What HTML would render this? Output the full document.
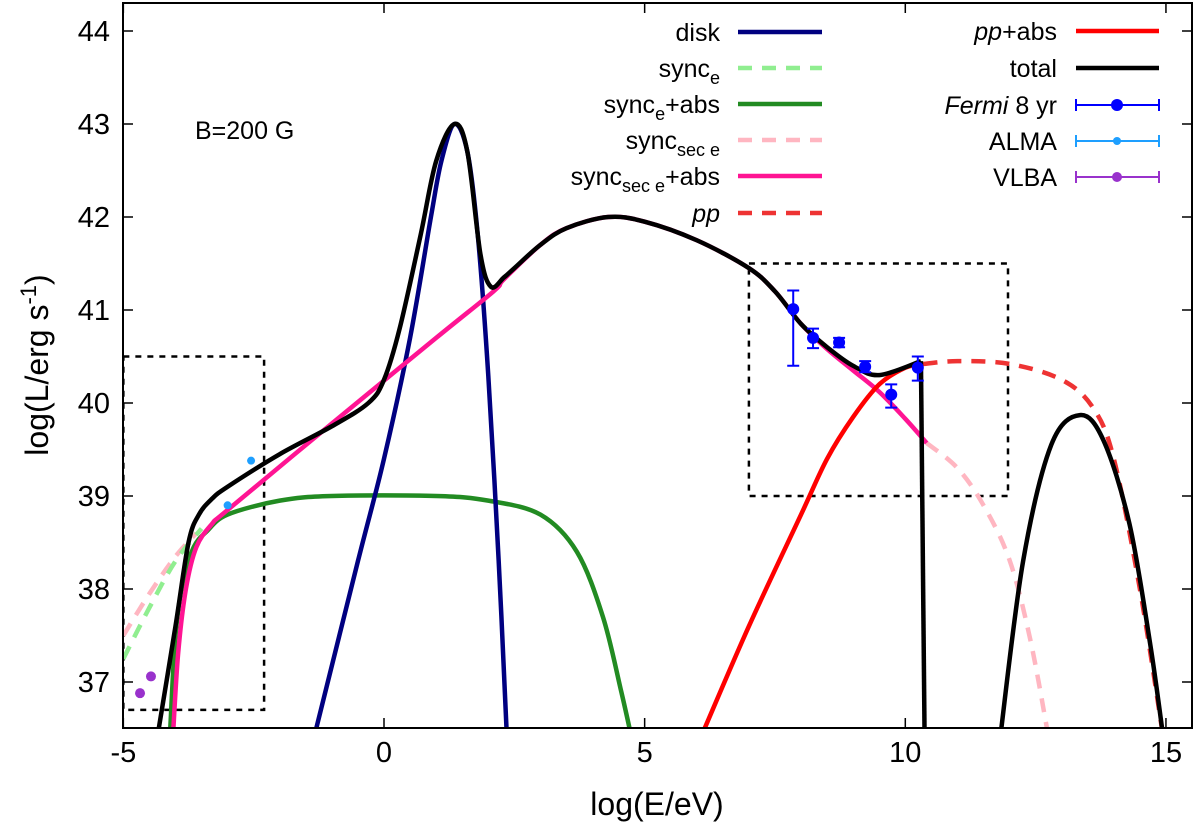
<!DOCTYPE html>
<html><head><meta charset="utf-8"><style>
html,body{margin:0;padding:0;background:#fff}
svg{display:block;font-family:"Liberation Sans",sans-serif}
</style></head><body>
<svg id="chart" width="1200" height="839" viewBox="0 0 1200 839">
<defs><clipPath id="clip"><rect x="123" y="3" width="1069" height="725"/></clipPath></defs>
<g id="marks" clip-path="url(#clip)"></g>
<g id="axes"></g>
<text x="657" y="815" font-size="32" text-anchor="middle">log(E/eV)</text>
<text transform="translate(48,365) rotate(-90)" font-size="32" text-anchor="middle">log(L/erg s<tspan dy="-12" font-size="22">-1</tspan><tspan dy="12">)</tspan></text>
<text x="195" y="139" font-size="25">B=200 G</text>
<g font-size="25" text-anchor="end">
<text x="720" y="41">disk</text>
<text x="720" y="77">sync<tspan font-size="18" dy="7">e</tspan></text>
<text x="720" y="113">sync<tspan font-size="18" dy="7">e</tspan><tspan dy="-7">+abs</tspan></text>
<text x="720" y="149">sync<tspan font-size="18" dy="7">sec e</tspan></text>
<text x="720" y="185">sync<tspan font-size="18" dy="7">sec e</tspan><tspan dy="-7">+abs</tspan></text>
<text x="720" y="222" font-style="italic">pp</text>
<text x="1057" y="40"><tspan font-style="italic">pp</tspan>+abs</text>
<text x="1057" y="77">total</text>
<text x="1057" y="114"><tspan font-style="italic">Fermi</tspan> 8 yr</text>
<text x="1057" y="150">ALMA</text>
<text x="1057" y="186">VLBA</text>
</g>
<g stroke-width="4.5">
<line x1="738" y1="32" x2="822" y2="32" stroke="#000080"/>
<line x1="738" y1="68" x2="822" y2="68" stroke="#90ee90" stroke-dasharray="14,10"/>
<line x1="738" y1="104" x2="822" y2="104" stroke="#228b22"/>
<line x1="738" y1="140" x2="822" y2="140" stroke="#ffb6c1" stroke-dasharray="14,10"/>
<line x1="738" y1="176" x2="822" y2="176" stroke="#ff1493"/>
<line x1="738" y1="213" x2="822" y2="213" stroke="#ee3333" stroke-dasharray="14,10"/>
<line x1="1076" y1="31" x2="1159" y2="31" stroke="#ff0000"/>
<line x1="1076" y1="68" x2="1159" y2="68" stroke="#000"/>
</g>
<g stroke-width="2" fill="none">
<path d="M1076,105h83M1076,99v12M1159,99v12" stroke="#0000ff"/><circle cx="1117" cy="105" r="6" fill="#0000ff" stroke="none"/>
<path d="M1076,141h83M1076,135v12M1159,135v12" stroke="#1e9fff"/><circle cx="1117" cy="141" r="4" fill="#1e9fff" stroke="none"/>
<path d="M1076,177h83M1076,171v12M1159,171v12" stroke="#9932cc"/><circle cx="1117" cy="177" r="5" fill="#9932cc" stroke="none"/>
</g>
</svg>
<script>
const xTicks=[-5,0,5,10,15];
const yTicks=[37,38,39,40,41,42,43,44];
const diskX=[-1.3,-0.5,0,0.5,0.9,1.1,1.35,1.6,1.8,2.0,2.2,2.35];
const diskY=[36.5,38.3,39.4,40.7,42.0,42.6,43.0,42.7,41.8,40.3,38.3,36.5];
const syncEX=[-5,-4.5,-4,-3.5];
const syncEY=[37.25,37.8,38.3,38.65];
const syncEAbsX=[-4.1,-4.0,-3.85,-3.65,-3.4,-3,-2,-1,1,2,3,3.7,4.2,4.55,4.75];
const syncEAbsY=[36.5,37.5,38.1,38.45,38.62,38.8,38.95,39.0,39.0,38.95,38.8,38.4,37.7,36.9,36.4];
const syncSecX=[-5,-4.5,-4,-3.6,10.41,11.0,11.5,12.0,12.4,12.75];
const syncSecY=[37.5,37.95,38.35,38.6,39.57,39.3,38.9,38.31,37.45,36.4];
const syncSecAbsX=[-4.05,-3.95,-3.8,-3.6,-3.3,-3,-1,1,2.1,2.3,3,3.5,4.3,5,6,7,7.5,8,8.5,9,9.5,10,10.41];
const syncSecAbsY=[36.4,37.3,38.0,38.45,38.7,38.85,39.78,40.7,41.2,41.33,41.7,41.88,42.0,41.95,41.75,41.45,41.2,40.85,40.58,40.35,40.12,39.83,39.57];
const ppX=[10.35,11,12,13,13.6,14,14.5,14.95];
const ppY=[40.42,40.45,40.42,40.25,39.95,39.4,38.0,36.4];
const ppAbsX=[6.15,7,8,8.5,9,9.5,10.0,10.35];
const ppAbsY=[36.5,37.6,38.8,39.4,39.85,40.2,40.38,40.42];
const totalX=[-4.35,-4,-3.75,-3.55,-3.3,-3,-2,-1,-0.3,0,0.3,0.7,1.0,1.35,1.6,1.85,2.05,2.3,2.5,3,3.5,4.3,5,6,7,7.5,8,8.5,9,9.5,10.3];
const totalY=[36.4,37.6,38.5,38.8,38.97,39.1,39.45,39.75,40.0,40.25,40.8,41.8,42.6,43.0,42.7,41.6,41.25,41.35,41.45,41.7,41.88,42.0,41.95,41.75,41.45,41.2,40.85,40.6,40.4,40.3,40.45];
const total2X=[11.82,12.26,12.8,13.35,13.8,14.3,14.7,14.95];
const total2Y=[36.4,38.3,39.55,39.87,39.6,38.7,37.4,36.4];
const fermiX=[7.85,8.23,8.73,9.23,9.73,10.24];
const fermiY=[41.01,40.70,40.65,40.39,40.09,40.38];
const fermiLo=[40.40,40.59,40.60,40.33,39.95,40.24];
const fermiHi=[41.21,40.80,40.70,40.45,40.20,40.50];
const almaX=[-3.0,-2.55];
const almaY=[38.9,39.38];
const vlbaX=[-4.68,-4.47];
const vlbaY=[36.88,37.06];

const NS='http://www.w3.org/2000/svg';
const sx=v=>384+(v)*52.13;
const sy=v=>31+(44-v)*93;
const marks=document.getElementById('marks');
const axes=document.getElementById('axes');
function mk(tag,attrs,parent){const e=document.createElementNS(NS,tag);for(const k in attrs)e.setAttribute(k,attrs[k]);parent.appendChild(e);return e;}
function smooth(xs,ys){
  const p=xs.map((x,i)=>[sx(x),sy(ys[i])]);
  let d='M'+p[0][0]+','+p[0][1];
  for(let i=0;i<p.length-1;i++){
    const p0=p[i-1]||p[i],p1=p[i],p2=p[i+1],p3=p[i+2]||p2;
    const c1=[p1[0]+(p2[0]-p0[0])/6,p1[1]+(p2[1]-p0[1])/6];
    const c2=[p2[0]-(p3[0]-p1[0])/6,p2[1]-(p3[1]-p1[1])/6];
    d+='C'+c1[0]+','+c1[1]+' '+c2[0]+','+c2[1]+' '+p2[0]+','+p2[1];
  }
  return d;
}
function curve(xs,ys,color,dash,name){
  const e=mk('path',{d:smooth(xs,ys),fill:'none',stroke:color,'stroke-width':4.5,'stroke-dasharray':dash||'none','stroke-linejoin':'round'},marks);
  
  
}
const b1=mk('rect',{x:sx(-5),y:sy(40.5),width:sx(-2.3)-sx(-5),height:sy(36.7)-sy(40.5),fill:'none',stroke:'#000','stroke-width':2.5,'stroke-dasharray':'6,6'},marks);


const b2=mk('rect',{x:sx(7.0),y:sy(41.5),width:sx(11.97)-sx(7.0),height:sy(39.0)-sy(41.5),fill:'none',stroke:'#000','stroke-width':2.5,'stroke-dasharray':'6,6'},marks);



curve(syncSecX.slice(0,4),syncSecY.slice(0,4),'#ffb6c1','14,10','sync-sec-e-low');
curve(syncSecX.slice(4),syncSecY.slice(4),'#ffb6c1','14,10','sync-sec-e-high');
curve(syncEX,syncEY,'#90ee90','14,10','sync-e-line');
curve(syncEAbsX,syncEAbsY,'#228b22','','sync-e-abs-line');
curve(diskX,diskY,'#000080','','disk-line');
curve(ppX,ppY,'#ee3333','14,10','pp-line');
curve(syncSecAbsX,syncSecAbsY,'#ff1493','','sync-sec-e-abs-line');
curve(ppAbsX,ppAbsY,'#ff0000','','pp-abs-line');
curve(totalX,totalY,'#000','','total-line');
const drop=mk('line',{x1:sx(totalX[totalX.length-1]),y1:sy(totalY[totalY.length-1]),x2:sx(10.37),y2:sy(36.4),stroke:'#000','stroke-width':4.5},marks);


curve(total2X,total2Y,'#000','','total-line-high');

function points(xs,ys,lo,hi,color,r,name){
  xs.forEach((x,i)=>{
    if(lo){
      const l=mk('path',{d:'M'+sx(x)+','+sy(lo[i])+'V'+sy(hi[i])+'M'+(sx(x)-6)+','+sy(lo[i])+'h12M'+(sx(x)-6)+','+sy(hi[i])+'h12',stroke:color,'stroke-width':2,fill:'none'},marks);
      
      
    }
    const c=mk('circle',{cx:sx(x),cy:sy(ys[i]),r:r,fill:color},marks);
    
    
  });
}
points(fermiX,fermiY,fermiLo,fermiHi,'#0000ff',6,'fermi');
points(almaX,almaY,null,null,'#1e9fff',4,'alma');
points(vlbaX,vlbaY,null,null,'#9932cc',5,'vlba');

const fr=mk('rect',{x:123,y:3,width:1069,height:725,fill:'none',stroke:'#000','stroke-width':2},axes);


xTicks.forEach(t=>{
  const X=sx(t);
  mk('path',{d:'M'+X+',728v-10M'+X+',3v10',stroke:'#000','stroke-width':1.5},axes);
  const tx=mk('text',{x:X,y:762,'font-size':29,'text-anchor':'middle'},axes);
  tx.textContent=t;
  
  
});
yTicks.forEach(t=>{
  const Y=sy(t);
  mk('path',{d:'M123,'+Y+'h10M1192,'+Y+'h-10',stroke:'#000','stroke-width':1.5},axes);
  const tx=mk('text',{x:110,y:Y+10,'font-size':29,'text-anchor':'end'},axes);
  tx.textContent=t;
  
  
});
</script>
</body></html>
